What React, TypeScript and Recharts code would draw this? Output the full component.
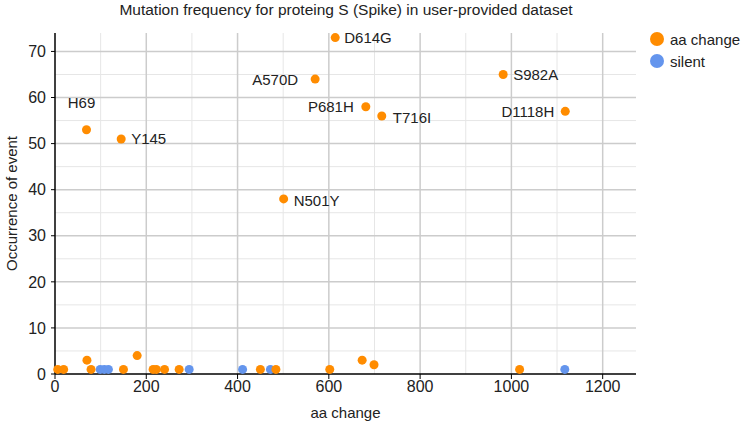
import { ScatterChart, Scatter, XAxis, YAxis, ReferenceLine, Legend, Label } from 'recharts';

// Orange series (aa change) — labelled hot spots
const hotNames = ['H69', 'Y145', 'N501Y', 'A570D', 'D614G', 'P681H', 'T716I', 'S982A', 'D1118H'];
const hotPos = [69, 145, 501, 570, 614, 681, 716, 982, 1118];
const hotCount = [53, 51, 38, 64, 73, 58, 56, 65, 57];

// Orange series — low-frequency changes
const aaPos = [6, 19, 70, 79, 150, 180, 215, 222, 240, 272, 450, 484, 602, 673, 699, 1018];
const aaCount = [1, 1, 3, 1, 1, 4, 1, 1, 1, 1, 1, 1, 1, 3, 2, 1];

// Blue series (silent)
const silentPos = [99, 108, 117, 294, 411, 472, 1117];
const silentCount = [1, 1, 1, 1, 1, 1, 1];

const xMajor = [0, 200, 400, 600, 800, 1000, 1200];
const xMinor = [100, 300, 500, 700, 900, 1100];
const yMajor = [0, 10, 20, 30, 40, 50, 60, 70];
const yMinor = [5, 15, 25, 35, 45, 55, 65];

const ORANGE = '#ff8c00';
const BLUE = '#6495ed';
const FONT = 'Arial, "Liberation Sans", sans-serif';
const TEXT = '#222';

// where each label sits relative to its dot: [side, gap]
const labelSide: Record<string, [string, number]> = {
  H69: ['top', 0], Y145: ['right', 10], N501Y: ['right', 10], A570D: ['left', 17], D614G: ['right', 9],
  P681H: ['left', 12], T716I: ['right', 11], S982A: ['right', 10], D1118H: ['left', 11],
};

const aaData = [
  ...hotPos.map((p, i) => ({ pos: p, count: hotCount[i], name: hotNames[i] })),
  ...aaPos.map((p, i) => ({ pos: p, count: aaCount[i], name: '' })),
];
const silentData = silentPos.map((p, i) => ({ pos: p, count: silentCount[i] }));

function Dot(props: any) {
  const { cx, cy, fill, payload } = props;
  const name: string = payload?.name || '';
  let label = null;
  if (name) {
    const [side, gap] = labelSide[name];
    const common = { fontSize: 15, fill: TEXT, fontFamily: FONT, dominantBaseline: 'central' as const };
    const dy = name === 'T716I' || name === 'N501Y' ? 2 : 0;
    if (side === 'right') label = <text x={cx + gap} y={cy + dy} textAnchor="start" {...common}>{name}</text>;
    else if (side === 'left') label = <text x={cx - gap} y={cy} textAnchor="end" {...common}>{name}</text>;
    else label = <text x={cx - 5} y={cy - 27} textAnchor="middle" {...common}>{name}</text>;
  }
  return (
    <g>
      <circle cx={cx} cy={cy} r={4.5} fill={fill} />
      {label}
    </g>
  );
}

function LegendBox() {
  const items = [
    { label: 'aa change', color: ORANGE },
    { label: 'silent', color: BLUE },
  ];
  return (
    <div style={{ fontFamily: FONT, fontSize: 15, color: TEXT, width: 100 }}>
      {items.map(it => (
        <div key={it.label} style={{ display: 'flex', alignItems: 'center', height: 22 }}>
          <span style={{ width: 14, height: 14, borderRadius: 7, background: it.color, marginRight: 6 }} />
          {it.label}
        </div>
      ))}
    </div>
  );
}

export default function App() {
  return (
    <div style={{ position: 'absolute', left: 0, top: 0, width: 745, height: 423, background: '#fff' }}>
      <div style={{ position: 'absolute', left: 0, width: 692, top: 1, textAlign: 'center', fontFamily: FONT, fontSize: 15.5, color: TEXT }}>
        Mutation frequency for proteing S (Spike) in user-provided dataset
      </div>
      {/* legend box (100px) is taken off the right side by recharts, so margin.right is the rest */}
      <ScatterChart width={745} height={423} margin={{ top: 33, right: 9, bottom: 0, left: 0 }}>
        <XAxis
          type="number"
          dataKey="pos"
          domain={[0, 1273]}
          ticks={xMajor}
          height={49}
          tickSize={5}
          tick={{ fontSize: 16, fill: TEXT, fontFamily: FONT }}
          axisLine={{ stroke: '#000', strokeWidth: 1.5 }}
          tickLine={{ stroke: '#000' }}
        >
          <Label value="aa change" position="insideBottom" offset={5} style={{ fontSize: 15, fill: TEXT, fontFamily: FONT }} />
        </XAxis>
        <YAxis
          type="number"
          dataKey="count"
          domain={[0, 74]}
          ticks={yMajor}
          width={55}
          tickSize={4}
          tickMargin={5}
          tick={{ fontSize: 16, fill: TEXT, fontFamily: FONT }}
          axisLine={{ stroke: '#000', strokeWidth: 1.5 }}
          tickLine={{ stroke: '#000' }}
        >
          <Label value="Occurrence of event" angle={-90} position="insideLeft" offset={12} style={{ fontSize: 15, fill: TEXT, fontFamily: FONT, textAnchor: 'middle' }} />
        </YAxis>
        {xMinor.map(v => <ReferenceLine key={'xm' + v} x={v} stroke="#e6e6e6" strokeWidth={1} />)}
        {yMinor.map(v => <ReferenceLine key={'ym' + v} y={v} stroke="#e6e6e6" strokeWidth={1} />)}
        {xMajor.slice(1).map(v => <ReferenceLine key={'xM' + v} x={v} stroke="#cccccc" strokeWidth={1.5} />)}
        {yMajor.slice(1).map(v => <ReferenceLine key={'yM' + v} y={v} stroke="#cccccc" strokeWidth={1.5} />)}
        <Legend
          layout="vertical"
          verticalAlign="top"
          align="right"
          wrapperStyle={{ top: 28, left: 650, width: 100 }}
          content={() => <LegendBox />}
        />
        <Scatter name="silent" data={silentData} fill={BLUE} shape={<Dot />} isAnimationActive={false} />
        <Scatter name="aa change" data={aaData} fill={ORANGE} shape={<Dot />} isAnimationActive={false} />
      </ScatterChart>
    </div>
  );
}
